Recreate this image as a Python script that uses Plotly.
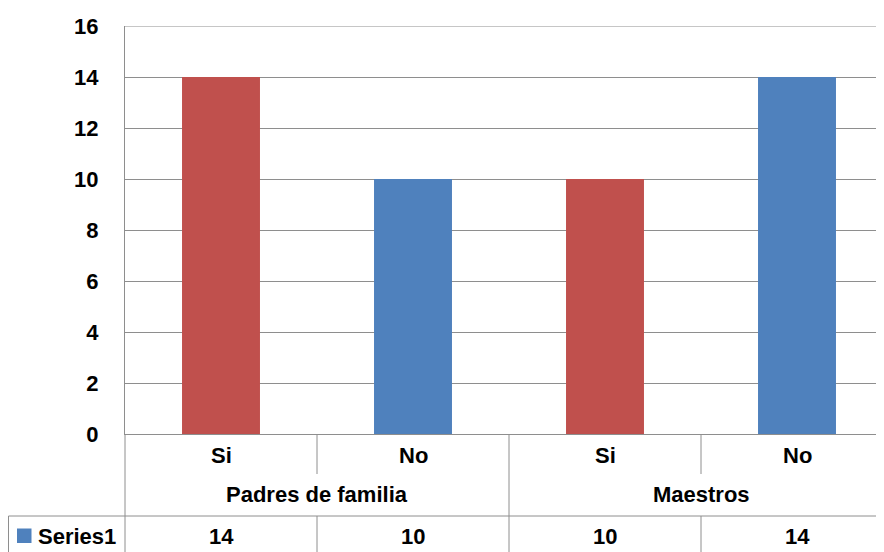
import plotly.graph_objects as go

# ---- data ----
groups = ["Padres de familia", "Padres de familia", "Maestros", "Maestros"]
answers = ["Si", "No", "Si", "No"]
values = [14, 10, 10, 14]
series_name = "Series1"
y_ticks = [0, 2, 4, 6, 8, 10, 12, 14, 16]

# ---- style ----
bar_colors = ["#C0504D", "#4F81BD", "#C0504D", "#4F81BD"]
legend_color = "#4F81BD"
line_color = "#8E8E8E"
FONT = "Liberation Sans"
FS = 22

# page body has an 8px margin; lay out in window pixels and offset
OFF = 8
WIN_W, WIN_H = 884, 552
W, H = WIN_W - OFF, WIN_H - OFF
L, R, T, B = 125 - OFF, 0, 26 - OFF, 118
pw, ph = W - L - R, H - T - B
cat_px = 192.0
x_range = [-0.5, -0.5 + pw / cat_px]

keys = [f"{g}|{a}" for g, a in zip(groups, answers)]


def px_x(p):
    return (p - OFF - L) / pw


def px_y(p):
    return (H - B - (p - OFF)) / ph


def cat_to_paper(v):
    return (v - x_range[0]) / (x_range[1] - x_range[0])


fig = go.Figure(
    go.Bar(
        x=keys,
        y=values,
        marker=dict(color=bar_colors, line=dict(width=0)),
        name=series_name,
        showlegend=False,
        hoverinfo="skip",
    )
)

shapes = []


def vline(xp, y0p, y1p):
    shapes.append(dict(type="line", xref="paper", yref="paper",
                       x0=xp, x1=xp, y0=px_y(y0p), y1=px_y(y1p),
                       line=dict(color=line_color, width=1)))


# top gridline at the axis maximum
shapes.append(dict(type="line", xref="paper", yref="y",
                   x0=0, x1=1, y0=y_ticks[-1], y1=y_ticks[-1],
                   line=dict(color=line_color, width=1)))
# table horizontal line
shapes.append(dict(type="line", xref="paper", yref="paper",
                   x0=px_x(8.5), x1=1, y0=px_y(516), y1=px_y(516),
                   line=dict(color=line_color, width=1)))
# left borders
vline(cat_to_paper(-0.5), 434, 552)
vline(px_x(8.5), 516, 552)
# dividers
n = len(values)
for i in range(n - 1):
    xp = cat_to_paper(i + 0.5)
    if groups[i] != groups[i + 1]:
        vline(xp, 434, 552)
    else:
        vline(xp, 434, 474)
        vline(xp, 516, 552)

# legend key
shapes.append(dict(type="rect", xref="paper", yref="paper",
                   x0=px_x(17), x1=px_x(31.5), y0=px_y(543), y1=px_y(528.5),
                   fillcolor=legend_color, line=dict(width=0)))

annotations = []
font = dict(family=FONT, size=FS, color="black", weight="bold")
for i, a in enumerate(answers):
    annotations.append(dict(text=a, xref="paper", yref="paper",
                            x=cat_to_paper(i), y=px_y(455), showarrow=False,
                            xanchor="center", yanchor="middle", font=font))
for i, v in enumerate(values):
    annotations.append(dict(text=str(v), xref="paper", yref="paper",
                            x=cat_to_paper(i), y=px_y(536), showarrow=False,
                            xanchor="center", yanchor="middle", font=font))
# group labels
seen = []
for g in groups:
    if g not in seen:
        seen.append(g)
for g in seen:
    idx = [i for i, gg in enumerate(groups) if gg == g]
    c = sum(idx) / len(idx)
    annotations.append(dict(text=g, xref="paper", yref="paper",
                            x=cat_to_paper(c), y=px_y(495), showarrow=False,
                            xanchor="center", yanchor="middle", font=font))
annotations.append(dict(text=series_name, xref="paper", yref="paper",
                        x=px_x(36), y=px_y(536), showarrow=False,
                        xanchor="left", yanchor="middle", font=font))

fig.update_layout(
    width=W, height=H,
    margin=dict(l=L, r=R, t=T, b=B, pad=0),
    paper_bgcolor="white", plot_bgcolor="white",
    bargap=0.594,
    shapes=shapes,
    annotations=annotations,
    font=dict(family=FONT),
)
fig.update_xaxes(type="category", range=x_range, showticklabels=False,
                 showgrid=False, showline=True, linecolor=line_color,
                 linewidth=1, ticks="", zeroline=False, fixedrange=True)
fig.update_yaxes(range=[0, 16], tickvals=y_ticks, showgrid=True,
                 gridcolor=line_color, gridwidth=1, showline=True,
                 linecolor=line_color, linewidth=1, ticks="",
                 zeroline=False, ticklabelstandoff=21,
                 tickfont=dict(family=FONT, size=FS, color="black", weight="bold"))

fig.write_html("out.html")
